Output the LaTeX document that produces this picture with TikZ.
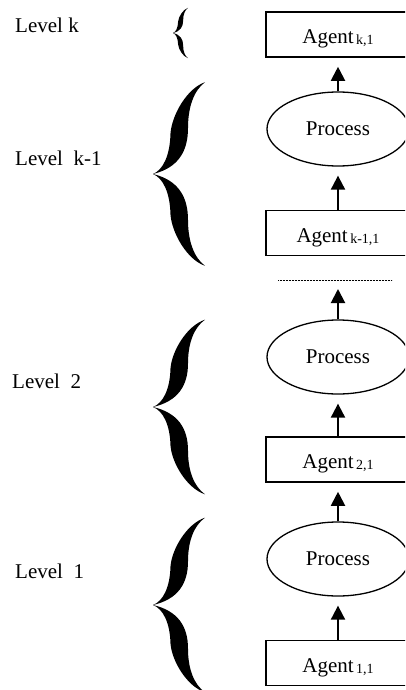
\documentclass[tikz,border=0pt]{standalone}
\usepackage{fontspec}
\setmainfont{Liberation Serif}
\usetikzlibrary{arrows.meta,shapes.geometric}

% agent name with its (upright) index set smaller just after it
\newcommand{\agentlabel}[1]{Agent\hspace{2.5pt}\raisebox{-1pt}{\fontsize{14}{14}\selectfont #1}}

\tikzset{
  agentbox/.style={draw, line width=1.6pt, minimum width=144pt, minimum height=45pt,
    inner sep=0pt, text height=20pt, text depth=2pt, font=\fontsize{21}{25}\selectfont},
  procell/.style={draw, ellipse, line width=1.3pt, minimum width=142pt, minimum height=74pt,
    inner sep=0pt, font=\fontsize{21}{25}\selectfont},
  uparrow/.style={-{Triangle[length=14pt,width=14pt]}, line width=2pt, shorten >=9pt},
  sepline/.style={line width=0.9pt, dash pattern=on 0.9pt off 0.6pt},
  levellabel/.style={anchor=base west, inner sep=0pt, font=\fontsize{21}{25}\selectfont},
  % heavy curly brace, tip at the origin, opening to the right
  pics/curlybrace/.style={code={
    \fill (0,0) .. controls (10,4) and (17,18) .. (17.5,40)
          .. controls (19,58) and (34,84) .. (52,90)
          .. controls (41,82) and (35,66) .. (35,45)
          .. controls (35,22) and (25,6) .. (0,0) -- cycle;
    \fill (0,0) .. controls (10,-4) and (17,-18) .. (17.5,-40)
          .. controls (19,-58) and (34,-84) .. (52,-90)
          .. controls (41,-82) and (35,-66) .. (35,-45)
          .. controls (35,-22) and (25,-6) .. (0,0) -- cycle;
  }}
}

\begin{document}
\begin{tikzpicture}[x=1pt,y=-1pt]
  \useasboundingbox (0,0) rectangle (405,690);
  \fill[white] (0,0) rectangle (405,690);
  \clip (0,0) rectangle (405,690);

  % level names
  \node[levellabel] (lk)  at (15,33)  {Level k};
  \node[levellabel] (lk1) at (15,165) {Level\ \ k-1};
  \node[levellabel] (l2)  at (12,388) {Level\ \ 2};
  \node[levellabel] (l1)  at (15,578) {Level\ \ 1};

  % braces grouping each level
  \pic[xscale=0.29, yscale=0.28] at (173,33) {curlybrace};
  \pic[yscale=1.02] at (153,174) {curlybrace};
  \pic[yscale=0.97] at (153,407) {curlybrace};
  \pic[yscale=0.97] at (153,605) {curlybrace};

  % agents and processes
  \node[agentbox] (ak)  at (338,34.5) {\agentlabel{k,1}};
  \node[procell]  (pk1) at (338,129)  {Process};
  \node[agentbox] (ak1) at (338,233)  {\agentlabel{k-1,1}};
  \node[procell]  (p2)  at (338,357)  {Process};
  \node[agentbox] (a2)  at (338,459.5){\agentlabel{2,1}};
  \node[procell]  (p1)  at (338,559)  {Process};
  \node[agentbox] (a1)  at (338,663)  {\agentlabel{1,1}};

  % elided levels
  \coordinate (gapL) at (278,280);
  \coordinate (gapR) at (392,280);
  \coordinate (gapM) at (338,280);
  \draw[sepline] (gapL) -- (gapR);

  % upward flow
  \draw[uparrow] (pk1.north) -- (ak.south);
  \draw[uparrow] (ak1.north) -- (pk1.south);
  \draw[uparrow] (p2.north)  -- (gapM);
  \draw[uparrow] (a2.north)  -- (p2.south);
  \draw[uparrow] (p1.north)  -- (a2.south);
  \draw[uparrow] (a1.north)  -- (p1.south);
\end{tikzpicture}
\end{document}
